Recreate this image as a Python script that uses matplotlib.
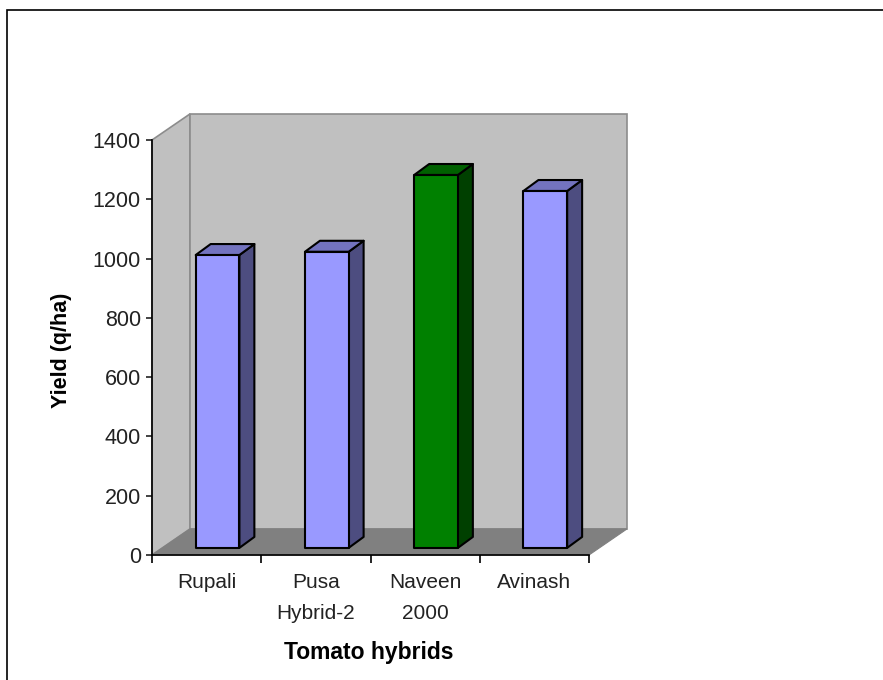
import matplotlib
matplotlib.use("Agg")
import matplotlib.pyplot as plt
from matplotlib.patches import Polygon, Rectangle

plt.rcParams['font.family'] = ['Liberation Sans', 'DejaVu Sans']

# data
hybrids = ['Rupali', 'Pusa\nHybrid-2', 'Naveen\n2000', 'Avinash']
yields = [988, 999, 1258, 1204]
front_colors = ['#9999FF', '#9999FF', '#008000', '#9999FF']
top_colors = ['#7373BF', '#7373BF', '#006000', '#7373BF']
side_colors = ['#4D4D80', '#4D4D80', '#004000', '#4D4D80']
yticks = [0, 200, 400, 600, 800, 1000, 1200, 1400]

# fake 3d depth, in data units
wall_dx = 0.348
wall_dy = 88
bar_off_x = 0.1
bar_off_y = 24
bar_dx = 0.137
bar_dy = 37
bar_w = 0.4

W, H = 883, 680
fig = plt.figure(figsize=(W / 100, H / 100), dpi=100)
fig.patches.append(Rectangle((7 / W, -0.01), 1, 1 - 10 / H + 0.01, transform=fig.transFigure,
                             facecolor='white', edgecolor='black', linewidth=1.2, zorder=-1))

ax = fig.add_axes([152 / W, 1 - 555 / H, 437 / W, 415 / H])
ax.patch.set_alpha(0)
n = len(hybrids)
ymax = yticks[-1]
ax.set_xlim(0, n)
ax.set_ylim(0, ymax)

# walls and floor
wall = dict(edgecolor='#8C8C8C', linewidth=1.2, clip_on=False, zorder=1)
ax.add_patch(Polygon([(0, 0), (wall_dx, wall_dy), (wall_dx, ymax + wall_dy), (0, ymax)],
                     facecolor='#C0C0C0', **wall))
ax.add_patch(Polygon([(wall_dx, wall_dy), (n + wall_dx, wall_dy), (n + wall_dx, ymax + wall_dy), (wall_dx, ymax + wall_dy)],
                     facecolor='#C0C0C0', **wall))
ax.add_patch(Polygon([(0, 0), (n, 0), (n + wall_dx, wall_dy), (wall_dx, wall_dy)],
                     facecolor='#808080', edgecolor='#808080', linewidth=0.8, clip_on=False, zorder=1.5))

# bars
for i, v in enumerate(yields):
    x0 = i + 0.5 + bar_off_x - bar_w / 2
    x1 = x0 + bar_w
    y0 = bar_off_y
    y1 = v + bar_off_y
    style = dict(edgecolor='black', linewidth=1.5, joinstyle='round', clip_on=False, zorder=3)
    ax.add_patch(Polygon([(x1, y0), (x1 + bar_dx, y0 + bar_dy), (x1 + bar_dx, y1 + bar_dy), (x1, y1)],
                         facecolor=side_colors[i], **style))
    ax.add_patch(Polygon([(x0, y1), (x1, y1), (x1 + bar_dx, y1 + bar_dy), (x0 + bar_dx, y1 + bar_dy)],
                         facecolor=top_colors[i], **style))
    ax.add_patch(Polygon([(x0, y0), (x1, y0), (x1, y1), (x0, y1)],
                         facecolor=front_colors[i], **style))

for s in ['top', 'right']:
    ax.spines[s].set_visible(False)
for s in ['left', 'bottom']:
    ax.spines[s].set_linewidth(1.2)
    ax.spines[s].set_zorder(4)

ax.set_yticks(yticks)
ax.set_xticks(range(n + 1))
ax.set_xticklabels([])
ax.tick_params(axis='y', length=4.5, width=1.2, pad=3.5, labelsize=15.5, colors='#222222')
ax.tick_params(axis='x', length=6, width=1.2)

for i, name in enumerate(hybrids):
    ax.text(i + 0.5, -60, name, ha='center', va='top', fontsize=15, linespacing=1.8, color='#222222')

fig.text(369 / W, 1 - 653 / H, 'Tomato hybrids', ha='center', va='center', fontsize=16.5, fontweight='bold')
fig.text(61 / W, 1 - 350 / H, 'Yield (q/ha)', ha='center', va='center', rotation=90, fontsize=15.5, fontweight='bold')

fig.savefig('out.png', dpi=100)
